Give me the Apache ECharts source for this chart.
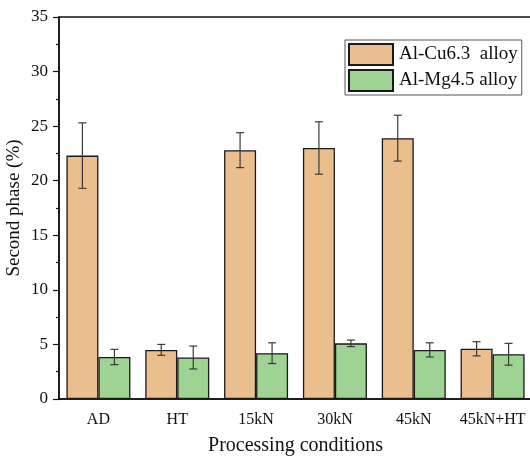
<!DOCTYPE html>
<html>
<head>
<meta charset="utf-8">
<script src="https://cdn.jsdelivr.net/npm/echarts@6/dist/echarts.min.js"></script>
<style>
  html, body { margin: 0; padding: 0; background: #fff; }
  #main { width: 530px; height: 459px; }
</style>
</head>
<body>
<div id="main"></div>
<script>
// data
const categories = ['AD', 'HT', '15kN', '30kN', '45kN', '45kN+HT']
const cuMean = [22.3, 4.5, 22.8, 23.0, 23.9, 4.6]
const cuErr = [3.0, 0.5, 1.6, 2.4, 2.1, 0.65]
const mgMean = [3.85, 3.8, 4.2, 5.1, 4.5, 4.1]
const mgErr = [0.7, 1.05, 0.95, 0.3, 0.65, 1.0]
const yTicks = [0, 5, 10, 15, 20, 25, 30, 35]

const font = '"Liberation Serif", "Times New Roman", serif'
const barW = 32

// error bar drawn by a custom series, shifted to the bar centre
const errorSeries = (name, mean, err, shift) => ({
  name: name + ' err',
  type: 'custom',
  silent: true,
  z: 5,
  data: mean.map((m, i) => [i, m - err[i], m + err[i]]),
  renderItem: (params, api) => {
    const lo = api.coord([api.value(0), api.value(1)])
    const hi = api.coord([api.value(0), api.value(2)])
    const x = lo[0] + shift
    const cap = 4
    const style = { stroke: '#3a3a3a', lineWidth: 1.2 }
    return {
      type: 'group',
      children: [
        { type: 'line', shape: { x1: x, y1: lo[1], x2: x, y2: hi[1] }, style },
        { type: 'line', shape: { x1: x - cap, y1: hi[1], x2: x + cap, y2: hi[1] }, style },
        { type: 'line', shape: { x1: x - cap, y1: lo[1], x2: x + cap, y2: lo[1] }, style }
      ]
    }
  }
})

const main = echarts.init(document.getElementById('main'))

const options = {
  backgroundColor: '#ffffff',
  animation: false,
  textStyle: { fontFamily: font, color: '#111' },
  grid: {
    left: 59,
    right: -2,
    top: 17,
    bottom: 60,
    outerBoundsMode: 'none',
    containLabel: false,
    show: true,
    borderColor: '#111',
    borderWidth: 1.5,
    backgroundColor: 'transparent'
  },
  legend: {
    orient: 'vertical',
    left: 345,
    top: 40,
    width: 178,
    padding: [3, 4, 3, 3],
    itemGap: 3,
    itemWidth: 44,
    itemHeight: 21,
    borderColor: '#555',
    borderWidth: 1,
    icon: 'rect',
    data: ['Al-Cu6.3  alloy', 'Al-Mg4.5 alloy'],
    textStyle: { fontFamily: font, fontSize: 19, color: '#111', padding: [0, 0, 0, 1] }
  },
  xAxis: [
    {
      type: 'category',
      data: categories,
      name: 'Processing conditions',
      nameLocation: 'middle',
      nameGap: 37,
      nameTextStyle: { fontFamily: font, fontSize: 20, color: '#111' },
      axisLine: { lineStyle: { color: '#111', width: 1.5 } },
      axisTick: { alignWithLabel: true, length: 6, lineStyle: { color: '#111', width: 1.2 } },
      axisLabel: { interval: 0, fontFamily: font, fontSize: 16, color: '#111', margin: 13 }
    },
    {
      // boundary ticks between categories
      type: 'category',
      data: categories,
      position: 'bottom',
      axisLine: { show: false },
      axisTick: { interval: 0, length: 3, lineStyle: { color: '#111', width: 1.2 } },
      axisLabel: { show: false }
    }
  ],
  yAxis: {
    type: 'value',
    min: 0,
    max: 35,
    interval: 5,
    name: 'Second phase (%)',
    nameLocation: 'middle',
    nameGap: 35,
    nameMoveOverlap: false,
    nameTextStyle: { fontFamily: font, fontSize: 19, color: '#111' },
    axisLine: { show: true, lineStyle: { color: '#111', width: 1.5 } },
    axisTick: { show: true, length: 6, lineStyle: { color: '#111', width: 1.2 } },
    minorTick: { show: true, splitNumber: 2, length: 3, lineStyle: { color: '#111', width: 1.2 } },
    splitLine: { show: false },
    axisLabel: {
      fontFamily: font, fontSize: 17, color: '#111', margin: 11,
      formatter: v => (yTicks.includes(v) ? String(v) : '')
    }
  },
  series: [
    {
      name: 'Al-Cu6.3  alloy',
      type: 'bar',
      data: cuMean,
      barWidth: barW,
      barGap: '0%',
      itemStyle: { color: '#EBBF8D', borderColor: '#1a1a1a', borderWidth: 1.3 }
    },
    {
      name: 'Al-Mg4.5 alloy',
      type: 'bar',
      data: mgMean,
      barWidth: barW,
      barGap: '0%',
      itemStyle: { color: '#9FD394', borderColor: '#1a1a1a', borderWidth: 1.3 }
    },
    errorSeries('cu', cuMean, cuErr, -barW / 2),
    errorSeries('mg', mgMean, mgErr, barW / 2)
  ]
}

main.setOption(options)
</script>
</body>
</html>
